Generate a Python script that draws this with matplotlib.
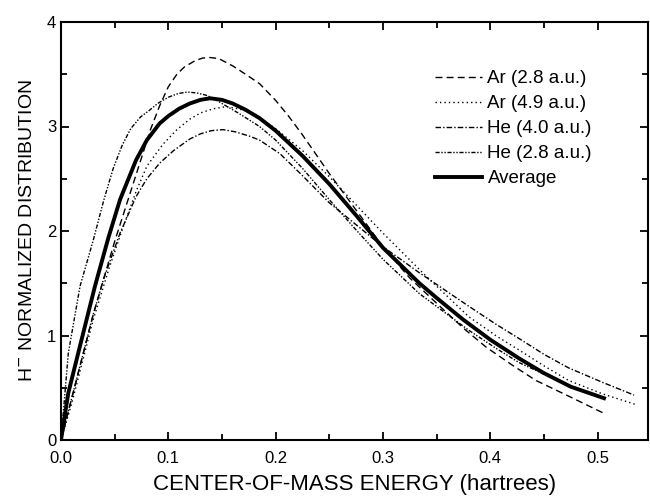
import numpy as np
import matplotlib
matplotlib.use("Agg")
import matplotlib.pyplot as plt
from matplotlib.ticker import MultipleLocator

plt.rcParams['font.family'] = ['Liberation Sans', 'DejaVu Sans']

# values (energy in hartrees, normalized distribution)
ar28_x = [0.0, 0.01, 0.02, 0.03, 0.04, 0.05, 0.06, 0.075, 0.083, 0.092, 0.1, 0.108, 0.115,
          0.125, 0.132, 0.139, 0.147, 0.16, 0.172, 0.185, 0.2, 0.212, 0.225, 0.25, 0.275,
          0.3, 0.325, 0.353, 0.375, 0.396, 0.42, 0.4425, 0.475, 0.506]
ar28_y = [0.0, 0.4, 0.8, 1.2, 1.55, 1.9, 2.22, 2.7, 2.96, 3.2, 3.38, 3.5, 3.57,
          3.63, 3.655, 3.66, 3.65, 3.58, 3.5, 3.41, 3.25, 3.1, 2.92, 2.55, 2.2,
          1.85, 1.55, 1.28, 1.07, 0.89, 0.72, 0.57, 0.41, 0.255]

ar49_x = [0.0, 0.01, 0.02, 0.03, 0.045, 0.058, 0.07, 0.08, 0.095, 0.108, 0.12, 0.13,
          0.142, 0.154, 0.165, 0.175, 0.187, 0.2, 0.225, 0.25, 0.275, 0.3, 0.34, 0.38,
          0.405, 0.427, 0.45, 0.473, 0.505, 0.537]
ar49_y = [0.0, 0.35, 0.75, 1.15, 1.65, 2.04, 2.38, 2.62, 2.83, 2.97, 3.07, 3.13,
          3.17, 3.19, 3.17, 3.14, 3.07, 2.98, 2.77, 2.52, 2.25, 1.98, 1.57, 1.18,
          1.0, 0.86, 0.71, 0.57, 0.44, 0.335]

he40_x = [0.0, 0.01, 0.02, 0.03, 0.04, 0.055, 0.07, 0.08, 0.092, 0.105, 0.12, 0.13,
          0.14, 0.151, 0.162, 0.175, 0.185, 0.204, 0.225, 0.25, 0.275, 0.3, 0.334, 0.38,
          0.405, 0.427, 0.45, 0.473, 0.505, 0.534]
he40_y = [0.0, 0.4, 0.8, 1.2, 1.55, 1.98, 2.33, 2.5, 2.65, 2.77, 2.88, 2.93,
          2.96, 2.97, 2.95, 2.91, 2.87, 2.74, 2.53, 2.27, 2.06, 1.85, 1.6, 1.28,
          1.11, 0.97, 0.82, 0.69, 0.55, 0.43]

he28_x = [0.0, 0.0068, 0.0177, 0.03, 0.04, 0.0487, 0.057, 0.065, 0.074, 0.083, 0.09,
          0.1, 0.109, 0.118, 0.127, 0.135, 0.142, 0.15, 0.165, 0.185, 0.2, 0.225, 0.25,
          0.275, 0.3, 0.334, 0.38, 0.405, 0.427, 0.465, 0.5]
he28_y = [0.0, 0.83, 1.47, 1.91, 2.3, 2.6, 2.82, 2.98, 3.09, 3.16, 3.22,
          3.28, 3.315, 3.33, 3.32, 3.3, 3.27, 3.22, 3.13, 3.0, 2.87, 2.6, 2.3,
          2.01, 1.73, 1.4, 1.05, 0.88, 0.74, 0.56, 0.42]

avg_x = [0.0, 0.0068, 0.016, 0.0316, 0.044, 0.055, 0.07, 0.08, 0.092, 0.1, 0.11, 0.12,
         0.13, 0.139, 0.15, 0.16, 0.172, 0.185, 0.2, 0.225, 0.25, 0.275, 0.3, 0.334,
         0.35, 0.375, 0.4, 0.427, 0.45, 0.475, 0.506]
avg_y = [0.0, 0.45, 0.83, 1.47, 1.93, 2.3, 2.68, 2.87, 3.03, 3.1, 3.17, 3.22,
         3.255, 3.27, 3.255, 3.22, 3.16, 3.08, 2.96, 2.72, 2.45, 2.15, 1.84, 1.5,
         1.36, 1.15, 0.96, 0.78, 0.64, 0.51, 0.4]

fig = plt.figure(figsize=(6.5, 5), dpi=100)
ax = fig.add_axes([61/650, 60/500, 587/650, 418/500])

ax.plot(ar28_x, ar28_y, color='black', lw=1.0, linestyle=(0, (5, 3)), label='Ar (2.8 a.u.)')
ax.plot(ar49_x, ar49_y, color='black', lw=1.0, linestyle=(0, (1, 2.2)), label='Ar (4.9 a.u.)')
ax.plot(he40_x, he40_y, color='black', lw=1.0, linestyle=(0, (4, 1.5, 1, 1.5)), label='He (4.0 a.u.)')
ax.plot(he28_x, he28_y, color='black', lw=1.0, linestyle=(0, (3, 1.2, 1, 1.2, 1, 1.2)), label='He (2.8 a.u.)')
ax.plot(avg_x, avg_y, color='black', lw=2.8, label='Average', solid_joinstyle='round')

ax.set_xlim(0, 0.547)
ax.set_ylim(0, 4)
ax.xaxis.set_minor_locator(MultipleLocator(0.05))
ax.yaxis.set_major_locator(MultipleLocator(1))
ax.yaxis.set_minor_locator(MultipleLocator(0.5))
ax.set_xticks([0, 0.1, 0.2, 0.3, 0.4, 0.5])
ax.set_xticklabels(['0.0', '0.1', '0.2', '0.3', '0.4', '0.5'])
ax.tick_params(which='both', direction='in', top=True, right=True, width=1.3, labelsize=12)
ax.tick_params(which='major', length=6)
ax.tick_params(which='minor', length=4)
ax.tick_params(axis='x', pad=8)
for s in ax.spines.values():
    s.set_linewidth(1.5)

ax.set_xlabel('CENTER-OF-MASS ENERGY (hartrees)', fontsize=16, labelpad=6)
ax.set_ylabel('H$^{-}$ NORMALIZED DISTRIBUTION', fontsize=14, labelpad=8)

ax.legend(loc='upper left', bbox_to_anchor=(435/650, 1 - 70/500), bbox_transform=fig.transFigure,
          frameon=False, fontsize=13.5, handlelength=2.5, handletextpad=0.3,
          labelspacing=0.42, borderpad=0, borderaxespad=0)

fig.savefig('out.png', dpi=100)
